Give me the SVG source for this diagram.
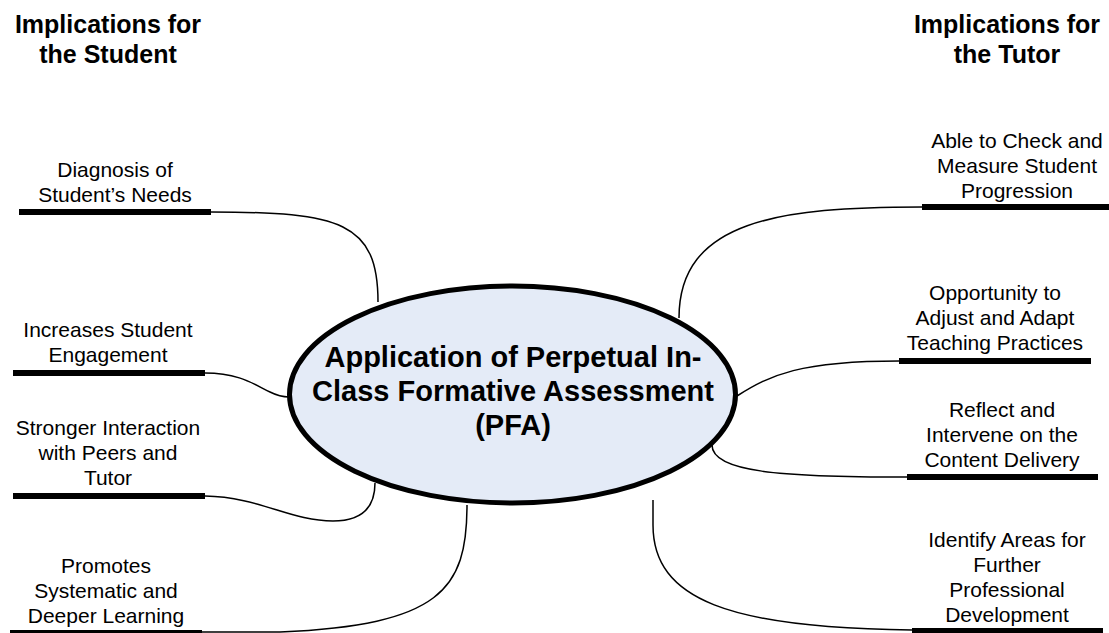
<svg xmlns="http://www.w3.org/2000/svg" width="1109" height="633" viewBox="0 0 1109 633">
<style>
.hd{font-family:"Liberation Sans",Arial,sans-serif;font-size:25px;font-weight:bold;fill:#000;text-anchor:middle}
.lb{font-family:"Liberation Sans",Arial,sans-serif;font-size:21px;fill:#000;text-anchor:middle}
.ct{font-family:"Liberation Sans",Arial,sans-serif;font-size:29px;font-weight:bold;fill:#000;text-anchor:middle}
.bar{fill:#000}
.cn{fill:none;stroke:#000;stroke-width:1.5}
</style>
<rect width="1109" height="633" fill="#fff"/>
<g id="connectors">
<path class="cn" d="M211,212 C340,212 378,222 378,302"/>
<path class="cn" d="M205,373 C240,373 255,385 270,392 C278,396 283,397 289,397"/>
<path class="cn" d="M205,496 C260,497 290,521 333,521 C365,521 375,505 375,483"/>
<path class="cn" d="M202,632 L280,632 C440,625 467,590 467,505"/>
<path class="cn" d="M922,207 C780,207 679,220 679,318"/>
<path class="cn" d="M899,361 C800,361 770,375 737,396"/>
<path class="cn" d="M907,477 C780,477 712,472 712,445"/>
<path class="cn" d="M912,630 C730,628 653,600 653,525 L653,500"/>
</g>
<g id="header-student">
<text class="hd" x="108" y="33">Implications for</text>
<text class="hd" x="108" y="63">the Student</text>
</g>
<g id="header-tutor">
<text class="hd" x="1007" y="33">Implications for</text>
<text class="hd" x="1007" y="63">the Tutor</text>
</g>
<g id="center">
<ellipse cx="512.5" cy="394.5" rx="223" ry="108.5" fill="#E4EBF7" stroke="#000" stroke-width="5"/>
<text class="ct" x="513" y="367">Application of Perpetual In-</text>
<text class="ct" x="513" y="401">Class Formative Assessment</text>
<text class="ct" x="513" y="435">(PFA)</text>
</g>
<g id="s1">
<text class="lb" x="115" y="177">Diagnosis of</text>
<text class="lb" x="115" y="202">Student’s Needs</text>
<rect class="bar" x="19" y="209" width="192" height="6"/>
</g>
<g id="s2">
<text class="lb" x="108" y="337">Increases Student</text>
<text class="lb" x="108" y="362">Engagement</text>
<rect class="bar" x="13" y="370" width="192" height="6"/>
</g>
<g id="s3">
<text class="lb" x="108" y="435">Stronger Interaction</text>
<text class="lb" x="108" y="460">with Peers and</text>
<text class="lb" x="108" y="485">Tutor</text>
<rect class="bar" x="13" y="493" width="192" height="6"/>
</g>
<g id="s4">
<text class="lb" x="106" y="573">Promotes</text>
<text class="lb" x="106" y="598">Systematic and</text>
<text class="lb" x="106" y="623">Deeper Learning</text>
<rect class="bar" x="10" y="630" width="192" height="6"/>
</g>
<g id="t1">
<text class="lb" x="1017" y="148">Able to Check and</text>
<text class="lb" x="1017" y="173">Measure Student</text>
<text class="lb" x="1017" y="198">Progression</text>
<rect class="bar" x="922" y="204" width="187" height="6"/>
</g>
<g id="t2">
<text class="lb" x="995" y="300">Opportunity to</text>
<text class="lb" x="995" y="325">Adjust and Adapt</text>
<text class="lb" x="995" y="350">Teaching Practices</text>
<rect class="bar" x="899" y="358" width="192" height="6"/>
</g>
<g id="t3">
<text class="lb" x="1002" y="417">Reflect and</text>
<text class="lb" x="1002" y="442">Intervene on the</text>
<text class="lb" x="1002" y="467">Content Delivery</text>
<rect class="bar" x="907" y="474" width="191" height="6"/>
</g>
<g id="t4">
<text class="lb" x="1007" y="547">Identify Areas for</text>
<text class="lb" x="1007" y="572">Further</text>
<text class="lb" x="1007" y="597">Professional</text>
<text class="lb" x="1007" y="622">Development</text>
<rect class="bar" x="912" y="628" width="191" height="6"/>
</g>
</svg>
